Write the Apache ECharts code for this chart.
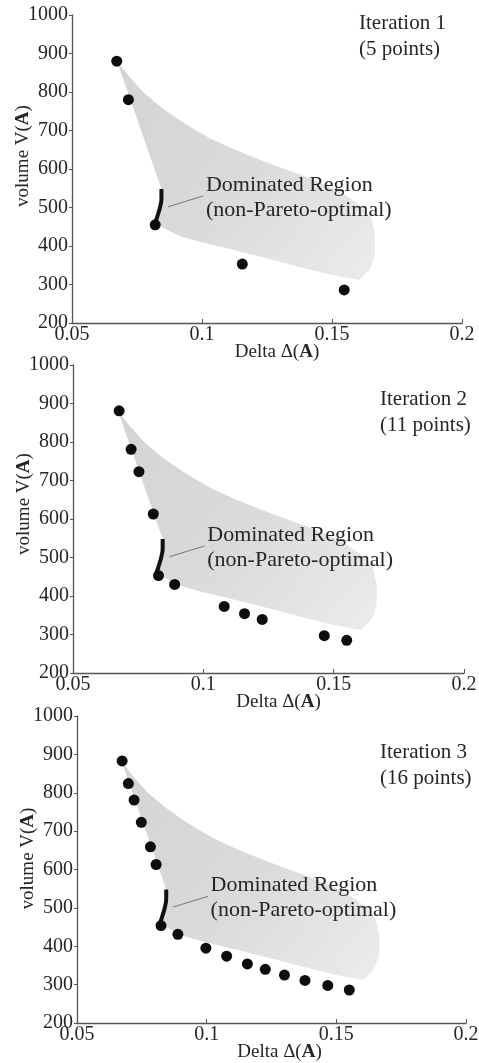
<!DOCTYPE html>
<html lang="en">
<head>
<meta charset="UTF-8">
<title>Pareto front iterations</title>
<style>
  html, body { margin: 0; padding: 0; background: #fff; }
  #chart { width: 479px; height: 1063px; }
</style>
</head>
<body>
<div id="chart"></div>
<script src="https://cdn.jsdelivr.net/npm/echarts@6/dist/echarts.min.js"></script>
<script>
// Pareto points found at each iteration, [Delta, volume]
var iter1 = [[0.0672, 880], [0.0717, 780], [0.0820, 455], [0.1155, 353], [0.1547, 286]];
var iter2 = [[0.0677, 881], [0.0723, 781], [0.0753, 723], [0.0808, 613], [0.0828, 453],
             [0.0890, 430], [0.1080, 373], [0.1158, 354], [0.1226, 339], [0.1464, 297], [0.1550, 285]];
var iter3 = [[0.0674, 883], [0.0698, 824], [0.0720, 781], [0.0748, 723], [0.0783, 659],
             [0.0805, 613], [0.0824, 454], [0.0889, 431], [0.0997, 395], [0.1077, 374],
             [0.1157, 354], [0.1226, 340], [0.1300, 325], [0.1379, 311], [0.1467, 298], [0.1550, 286]];
var iterTitles = ['Iteration 1', 'Iteration 2', 'Iteration 3'];
var iterCounts = ['(5 points)', '(11 points)', '(16 points)'];

// outline of the dominated (grey) region
var regionOutline = [[0.0673, 880], [0.0720, 840], [0.0773, 800], [0.0840, 762], [0.0900, 733],
                     [0.0960, 707], [0.1030, 680], [0.1120, 652], [0.1220, 625], [0.1310, 602],
                     [0.1400, 580], [0.1480, 557], [0.1550, 533], [0.1610, 505], [0.1650, 475],
                     [0.1665, 430], [0.1665, 375], [0.1645, 338], [0.1605, 312], [0.1500, 325],
                     [0.1380, 345], [0.1250, 368], [0.1120, 390], [0.1000, 410], [0.0920, 425],
                     [0.0870, 440], [0.0840, 452], [0.0822, 458], [0.0832, 485], [0.0840, 505],
                     [0.0844, 525], [0.0844, 548]];
// thick black non-Pareto piece
var frontCurve = [[0.0844, 548], [0.0844, 525], [0.0840, 505], [0.0832, 485], [0.0824, 468], [0.0819, 458]];
var leaderLine = [[0.0870, 502], [0.1005, 530]];
var regionLabelAt = [[0.1015, 526]];

var xMin = 0.05, xMax = 0.2, xStep = 0.05;
var yMin = 200, yMax = 1000, yStep = 100;

var serif = 'Liberation Serif';
var ink = '#262626';

var panels = [
  { data: iter1, grid: { left: 72, right: 17, top: 15, height: 308 }, yShift: 13, xShift: 10, title: [359, 36] },
  { data: iter2, grid: { left: 73, right: 15, top: 365, height: 308 }, yShift: 15, xShift: 10, title: [380, 412] },
  { data: iter3, grid: { left: 77, right: 13, top: 716, height: 307 }, yShift: 11, xShift: 8, title: [380, 765] }
];

var grids = [], xAxes = [], yAxes = [], series = [], graphics = [];

panels.forEach(function (p, i) {
  var g = p.grid;
  g.outerBoundsMode = 'none';
  g.containLabel = false;
  grids.push(g);
  xAxes.push({
    gridIndex: i, type: 'value', min: xMin, max: xMax, interval: xStep,
    name: 'Delta \u0394({b|A})', nameLocation: 'middle', nameGap: 20, nameMoveOverlap: false,
    nameTextStyle: {
      fontFamily: serif, fontSize: 19, color: ink, padding: [0, 0, 0, p.xShift * 2],
      rich: { b: { fontFamily: serif, fontSize: 19, fontWeight: 'bold', color: ink } }
    },
    axisLine: { lineStyle: { color: '#555', width: 1.3 } },
    axisTick: { inside: true, length: 4, lineStyle: { color: '#555' } },
    axisLabel: { fontFamily: serif, fontSize: 20, color: ink, margin: 2 },
    splitLine: { show: false }
  });
  yAxes.push({
    gridIndex: i, type: 'value', min: yMin, max: yMax, interval: yStep,
    name: 'volume V({b|A})', nameLocation: 'middle', nameGap: 39, nameMoveOverlap: false,
    nameTextStyle: {
      fontFamily: serif, fontSize: 19, color: ink, padding: [0, 0, 0, p.yShift * 2],
      rich: { b: { fontFamily: serif, fontSize: 19, fontWeight: 'bold', color: ink } }
    },
    axisLine: { show: true, lineStyle: { color: '#555', width: 1.3 } },
    axisTick: { show: true, length: 3, lineStyle: { color: '#555' } },
    axisLabel: {
      fontFamily: serif, fontSize: 20, color: ink, margin: 4,
      formatter: function (v) { return String(v); }
    },
    splitLine: { show: false }
  });

  series.push({
    type: 'custom', xAxisIndex: i, yAxisIndex: i, silent: true, z: 1,
    data: [regionOutline[0]],
    renderItem: function (params, api) {
      var pts = regionOutline.map(function (d) { return api.coord(d); });
      return {
        type: 'polygon',
        shape: { points: pts },
        style: {
          fill: new echarts.graphic.LinearGradient(0, 0, 1, 1, [
            { offset: 0, color: '#d4d4d4' },
            { offset: 0.5, color: '#dadada' },
            { offset: 1, color: '#ececec' }
          ])
        }
      };
    }
  });
  series.push({
    type: 'line', xAxisIndex: i, yAxisIndex: i, data: frontCurve, smooth: true,
    symbol: 'none', lineStyle: { color: '#111', width: 4 }, z: 3, silent: true
  });
  series.push({
    type: 'line', xAxisIndex: i, yAxisIndex: i, data: leaderLine,
    symbol: 'none', lineStyle: { color: '#777', width: 1 }, z: 3, silent: true
  });
  series.push({
    type: 'scatter', xAxisIndex: i, yAxisIndex: i, data: regionLabelAt, symbolSize: 0, z: 4,
    itemStyle: { opacity: 1 },
    label: {
      show: true, position: 'right', distance: 0,
      formatter: 'Dominated Region\n(non-Pareto-optimal)',
      fontFamily: serif, fontSize: 22, lineHeight: 25, color: ink, align: 'left'
    }
  });
  series.push({
    type: 'scatter', xAxisIndex: i, yAxisIndex: i, data: p.data,
    symbolSize: 11, itemStyle: { color: '#0d0d0d', opacity: 1 }, z: 5
  });

  graphics.push({
    type: 'text', x: p.title[0], y: p.title[1],
    style: {
      text: iterTitles[i] + '\n' + iterCounts[i],
      fontFamily: serif, fontSize: 21, lineHeight: 26, fill: ink,
      align: 'left', verticalAlign: 'middle'
    }
  });
});

var chart = echarts.init(document.getElementById('chart'));
chart.setOption({
  animation: false,
  backgroundColor: '#fff',
  grid: grids,
  xAxis: xAxes,
  yAxis: yAxes,
  series: series,
  graphic: graphics
});
</script>
</body>
</html>
